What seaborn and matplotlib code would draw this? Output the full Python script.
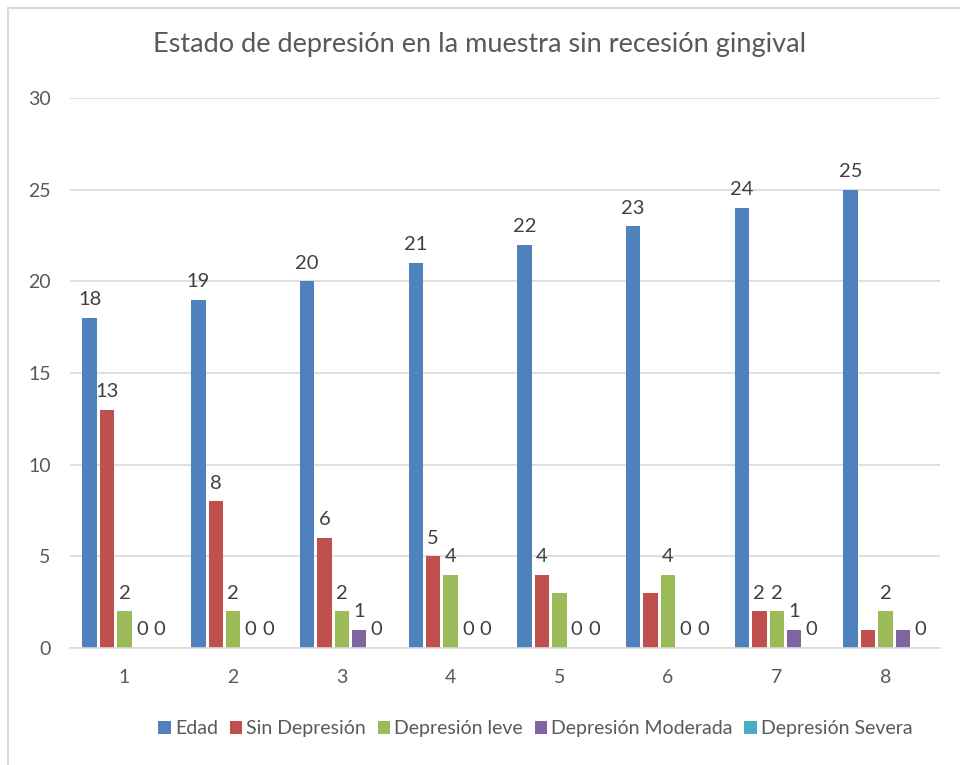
import matplotlib
matplotlib.use('Agg')
import matplotlib.pyplot as plt
import numpy as np
import pandas as pd
import seaborn as sns
from matplotlib.patches import Rectangle

#%% datos
grupos = ['1', '2', '3', '4', '5', '6', '7', '8']
series = ['Edad', 'Sin Depresión', 'Depresión leve', 'Depresión Moderada', 'Depresión Severa']

edad = [18, 19, 20, 21, 22, 23, 24, 25]
sin_depresion = [13, 8, 6, 5, 4, 3, 2, 1]
depresion_leve = [2, 2, 2, 4, 3, 4, 2, 2]
depresion_moderada = [0, 0, 1, 0, 0, 0, 1, 1]
depresion_severa = [0, 0, 0, 0, 0, 0, 0, 0]

# etiquetas visibles (las que Excel dejo ocultas van vacias)
etq_edad = ['18', '19', '20', '21', '22', '23', '24', '25']
etq_sin = ['13', '8', '6', '5', '4', '', '2', '']
etq_leve = ['2', '2', '2', '4', '', '4', '2', '2']
etq_mod = ['0', '0', '1', '0', '0', '0', '1', '']
etq_sev = ['0', '0', '0', '0', '0', '0', '0', '0']

colores = ['#4f81bd', '#c0504d', '#9bbb59', '#8064a2', '#4bacc6']

#%% tabla larga
valores = [edad, sin_depresion, depresion_leve, depresion_moderada, depresion_severa]
df = pd.DataFrame({
    'grupo': grupos * len(series),
    'serie': np.repeat(series, len(grupos)),
    'valor': np.concatenate(valores),
})

sns.set_style('white')
plt.rcParams['font.family'] = ['Lato', 'DejaVu Sans']

fig = plt.figure(figsize=(9.6, 7.65), dpi=100)
ax = fig.add_axes([0.073, 0.153, 0.906, 0.719])

sns.barplot(data=df, x='grupo', y='valor', hue='serie', palette=colores,
            width=0.8, gap=0.17, ax=ax, legend=True, saturation=1, linewidth=0)

etiquetas = [etq_edad, etq_sin, etq_leve, etq_mod, etq_sev]
for cont, etq in zip(ax.containers, etiquetas):
    ax.bar_label(cont, labels=etq, padding=7, fontsize=14.5, color='#404040')

ax.set_ylim(0, 30)
ax.set_yticks(range(0, 31, 5))
ax.yaxis.grid(True, color='#d9d9d9', linewidth=1.2)
ax.set_axisbelow(True)
for s in ['top', 'right', 'left']:
    ax.spines[s].set_visible(False)
ax.spines['bottom'].set_color('#d9d9d9')
ax.spines['bottom'].set_linewidth(1.2)
ax.tick_params(axis='both', length=0, labelsize=14, colors='#595959')
ax.tick_params(axis='x', pad=15)
ax.tick_params(axis='y', pad=14)
ax.set_xlabel('')
ax.set_ylabel('')

fig.suptitle('Estado de depresión en la muestra sin recesión gingival',
             y=0.958, fontsize=19.5, color='#595959')

ax.legend(loc='upper center', bbox_to_anchor=(0.535, -0.1), ncol=5, frameon=False,
          fontsize=14, handlelength=0.65, handleheight=0.65, handletextpad=0.2,
          columnspacing=0.6, labelcolor='#595959')

# marco del grafico
fig.patches.append(Rectangle((8 / 960, -0.05), 1.1, 1.05 - 8 / 765, transform=fig.transFigure,
                             fill=False, edgecolor='#d9d9d9', linewidth=1.5))

fig.savefig('out.png', dpi=100)
